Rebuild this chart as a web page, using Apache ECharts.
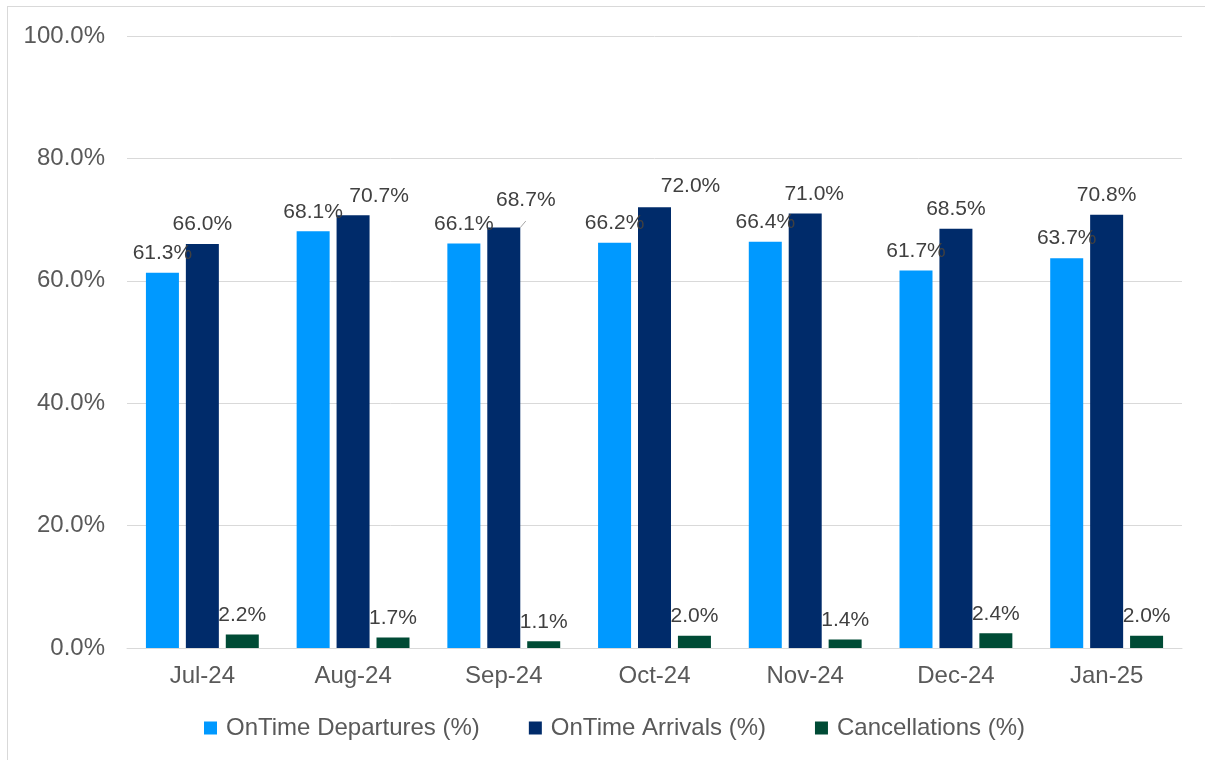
<!DOCTYPE html>
<html>
<head>
<meta charset="utf-8">
<script src="https://cdn.jsdelivr.net/npm/echarts@6/dist/echarts.min.js"></script>
<style>
  html, body { margin: 0; padding: 0; background: #fff; overflow: hidden; }
  #frame { position: absolute; left: 7px; top: 6px; width: 1220px; height: 780px; border: 1px solid #d9d9d9; box-sizing: border-box; }
  #chart { position: absolute; left: 0; top: 0; width: 1205px; height: 760px; }
</style>
</head>
<body>
<div id="frame"></div>
<div id="chart"></div>
<script>
const categories = ['Jul-24', 'Aug-24', 'Sep-24', 'Oct-24', 'Nov-24', 'Dec-24', 'Jan-25'];
const onTimeDepartures = [61.3, 68.1, 66.1, 66.2, 66.4, 61.7, 63.7];
const onTimeArrivals = [66.0, 70.7, 68.7, 72.0, 71.0, 68.5, 70.8];
const cancellations = [2.2, 1.7, 1.1, 2.0, 1.4, 2.4, 2.0];
const seriesNames = ['OnTime Departures (%)', 'OnTime Arrivals (%)', 'Cancellations (%)'];

// label nudges for arrivals labels (layout only, as in the source chart)
const arrivalLabelDx = [0, 26, 22, 36, 9, 0, 0];
const arrivalLabelDy = [0, 0, -8, -2, 0, 0, 0];

const FONT = '"Liberation Sans", Arial, sans-serif';
const fmt = p => p.value.toFixed(1) + '%';

const arrivalsData = onTimeArrivals.map((v, i) => ({
  value: v,
  label: { offset: [arrivalLabelDx[i], arrivalLabelDy[i]] },
  labelLine: { show: i === 2 }
}));

const labelBase = {
  show: true, position: 'top', distance: 9,
  fontFamily: FONT, fontSize: 21, color: '#404040', formatter: fmt
};

const chart = echarts.init(document.getElementById('chart'));
chart.setOption({
  animation: false,
  textStyle: { fontFamily: FONT },
  grid: { left: 127, right: 23, top: 36, bottom: 112 },
  legend: {
    left: 199, top: 711,
    itemWidth: 13, itemHeight: 13, itemGap: 49,
    icon: 'rect',
    textStyle: { fontFamily: FONT, fontSize: 24, color: '#595959', padding: [0, 0, 0, 4] },
    data: seriesNames
  },
  xAxis: {
    type: 'category', data: categories,
    axisLine: { lineStyle: { color: '#d9d9d9', width: 1 } },
    axisTick: { show: false },
    axisLabel: { fontFamily: FONT, fontSize: 24, color: '#595959', margin: 16 }
  },
  yAxis: {
    type: 'value', min: 0, max: 100, interval: 20,
    axisLine: { show: false }, axisTick: { show: false },
    splitLine: { lineStyle: { color: '#d9d9d9', width: 1 } },
    axisLabel: { fontFamily: FONT, fontSize: 24, color: '#595959', margin: 22,
      formatter: v => v.toFixed(1) + '%' }
  },
  series: [
    { name: seriesNames[0], type: 'bar', data: onTimeDepartures, barWidth: 33, barGap: '21%',
      itemStyle: { color: '#0099FF' }, label: labelBase },
    { name: seriesNames[1], type: 'bar', data: arrivalsData, barWidth: 33, barGap: '21%',
      itemStyle: { color: '#002B6A' }, label: labelBase,
      labelLine: { show: false, lineStyle: { color: '#a6a6a6', width: 1 } } },
    { name: seriesNames[2], type: 'bar', data: cancellations, barWidth: 33, barGap: '21%',
      itemStyle: { color: '#004B35' }, label: labelBase }
  ]
});
</script>
</body>
</html>
